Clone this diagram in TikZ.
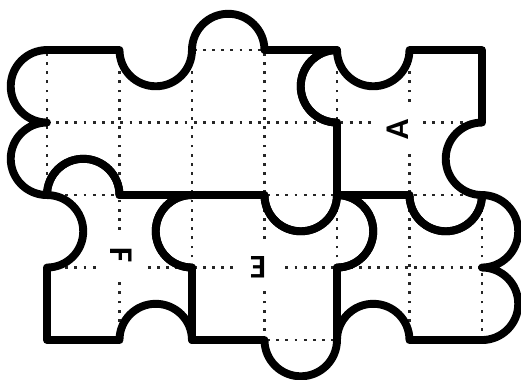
\documentclass[tikz,border=0pt]{standalone}
\usepackage{fontspec}
\setsansfont{Carlito}

\begin{document}
\begin{tikzpicture}[
  grille/.style={line width=1pt,dash pattern=on 1.1pt off 2.5pt,black!85},
  piece/.style={line width=3.1pt,line join=round},
  etiq/.style={fill=white,inner sep=5pt,font=\sffamily\bfseries\fontsize{13}{14}\selectfont},
]
  % Cadre de l'image
  \useasboundingbox (-0.648,-0.538) rectangle (6.538,4.690);

  % Quadrillage en pointilles, limite au contour du puzzle
  \begin{scope}
    \clip (0,4) -- (1,4)
      arc[start angle=180,end angle=360,radius=0.5]
      arc[start angle=180,end angle=0,radius=0.5] -- (4,4)
      arc[start angle=180,end angle=360,radius=0.5] -- (6,4) -- (6,3)
      arc[start angle=90,end angle=270,radius=0.5]
      arc[start angle=90,end angle=-90,radius=0.5]
      arc[start angle=90,end angle=-90,radius=0.5] -- (5,0)
      arc[start angle=0,end angle=180,radius=0.5]
      arc[start angle=0,end angle=-180,radius=0.5] -- (2,0)
      arc[start angle=0,end angle=180,radius=0.5] -- (0,0) -- (0,1)
      arc[start angle=-90,end angle=90,radius=0.5]
      arc[start angle=-90,end angle=-270,radius=0.5]
      arc[start angle=-90,end angle=-270,radius=0.5] -- cycle;
    \draw[grille] (0,0) grid (6,4);
  \end{scope}

  % Grande piece du haut (4 x 2)
  \draw[piece] (0,4) -- (1,4)
    arc[start angle=180,end angle=360,radius=0.5]
    arc[start angle=180,end angle=0,radius=0.5] -- (4,4)
    arc[start angle=90,end angle=270,radius=0.5] -- (4,2)
    arc[start angle=0,end angle=-180,radius=0.5] -- (1,2)
    arc[start angle=0,end angle=180,radius=0.5]
    arc[start angle=-90,end angle=-270,radius=0.5]
    arc[start angle=-90,end angle=-270,radius=0.5] -- cycle;

  % Piece A
  \draw[piece] (4,4)
    arc[start angle=180,end angle=360,radius=0.5] -- (6,4) -- (6,3)
    arc[start angle=90,end angle=270,radius=0.5]
    arc[start angle=0,end angle=-180,radius=0.5] -- (4,2) -- (4,3)
    arc[start angle=-90,end angle=-270,radius=0.5] -- cycle;

  % Piece F
  \draw[piece] (0,2)
    arc[start angle=180,end angle=0,radius=0.5] -- (2,2)
    arc[start angle=90,end angle=270,radius=0.5] -- (2,0)
    arc[start angle=0,end angle=180,radius=0.5] -- (0,0) -- (0,1)
    arc[start angle=-90,end angle=90,radius=0.5] -- cycle;

  % Piece E
  \draw[piece] (2,2) -- (3,2)
    arc[start angle=180,end angle=360,radius=0.5]
    arc[start angle=90,end angle=-90,radius=0.5] -- (4,0)
    arc[start angle=0,end angle=-180,radius=0.5] -- (2,0) -- (2,1)
    arc[start angle=-90,end angle=-270,radius=0.5] -- cycle;

  % Piece en bas a droite
  \draw[piece] (4,2) -- (5,2)
    arc[start angle=180,end angle=360,radius=0.5]
    arc[start angle=90,end angle=-90,radius=0.5]
    arc[start angle=90,end angle=-90,radius=0.5] -- (5,0)
    arc[start angle=0,end angle=180,radius=0.5] -- (4,1)
    arc[start angle=-90,end angle=90,radius=0.5] -- cycle;

  % Lettres
  \node[etiq,rotate=90]  (lA) at (4.84,2.90) {A};
  \node[etiq,rotate=-90] (lF) at (1.03,1.17) {F};
  \node[etiq,rotate=180] (lE) at (2.91,1.01) {E};
\end{tikzpicture}
\end{document}
